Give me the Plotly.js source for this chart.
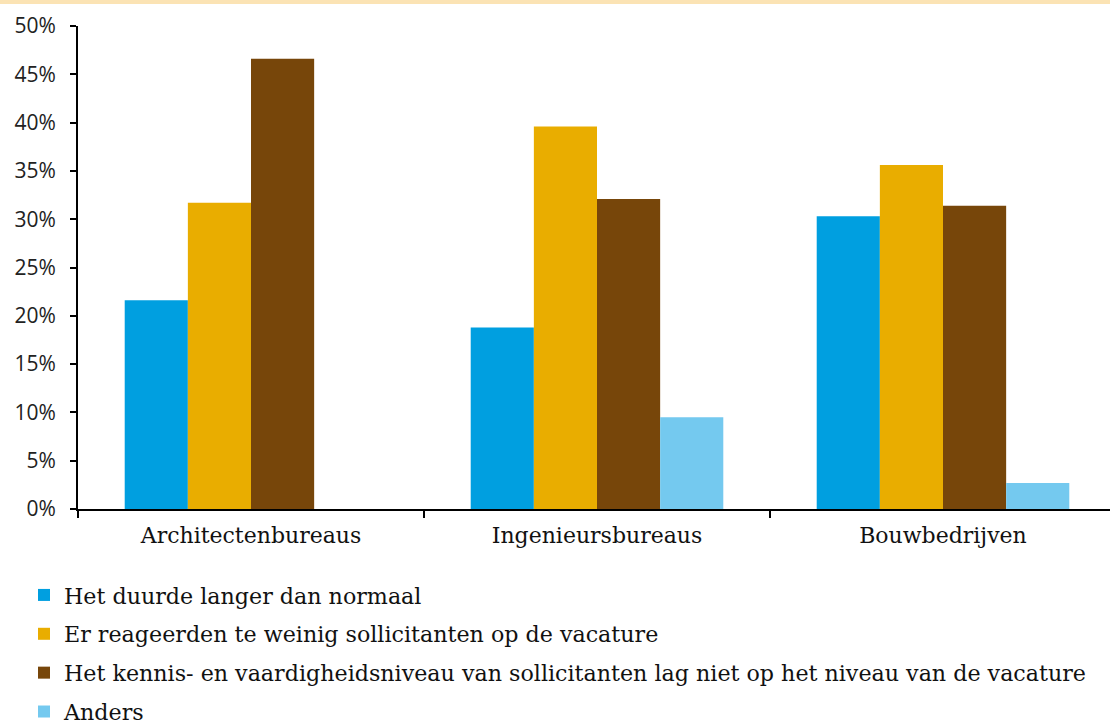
<!DOCTYPE html>
<html>
<head>
<meta charset="utf-8">
<script src="https://cdn.plot.ly/plotly-3.0.1.min.js"></script>
<style>
html,body{margin:0;padding:0;background:#fff;overflow:hidden;}
#band{position:absolute;left:0;top:0;width:1110px;height:4px;background:#fbe3b4;}
#chart{width:1116px;height:724px;}
</style>
</head>
<body>
<div id="chart"></div>
<div id="band"></div>
<script>
const categories = ["Architectenbureaus", "Ingenieursbureaus", "Bouwbedrijven"];
const seriesNames = [
  "Het duurde langer dan normaal",
  "Er reageerden te weinig sollicitanten op de vacature",
  "Het kennis- en vaardigheidsniveau van sollicitanten lag niet op het niveau van de vacature",
  "Anders"
];
const duurde = [0.216, 0.188, 0.303];
const weinig = [0.317, 0.396, 0.356];
const niveau = [0.466, 0.321, 0.314];
const anders = [null, 0.095, 0.027];
const colors = ["#009fe0", "#e9ad00", "#77460a", "#74c9ef"];
const yTicks = [0, 0.05, 0.1, 0.15, 0.2, 0.25, 0.3, 0.35, 0.4, 0.45, 0.5];

const values = [duurde, weinig, niveau, anders];
const traces = values.map((v, i) => ({
  type: "bar",
  x: categories,
  y: v,
  name: seriesNames[i],
  marker: {color: colors[i], line: {width: 0}},
  legendgroup: "g" + i,
  hoverinfo: "none"
}));

const layout = {
  width: 1116, height: 724,
  margin: {l: 78, r: 0, t: 26, b: 215, autoexpand: false},
  paper_bgcolor: "#ffffff",
  plot_bgcolor: "#ffffff",
  barmode: "group",
  bargap: 0.27,
  bargroupgap: 0,
  showlegend: true,
  legend: {
    xref: "container", yref: "container",
    x: 24/1116, y: 1 - 574/724,
    xanchor: "left", yanchor: "top",
    orientation: "v",
    traceorder: "grouped",
    tracegroupgap: 7,
    itemwidth: 30,
    font: {family: "DejaVu Serif, Liberation Serif, serif", size: 22.2, color: "#111"}
  },
  xaxis: {
    showline: true, linecolor: "#000", linewidth: 2,
    ticks: "outside", tickson: "boundaries", ticklen: 7, tickcolor: "#000", tickwidth: 2,
    tickangle: 0,
    ticklabelstandoff: 6,
    tickfont: {family: "DejaVu Serif, Liberation Serif, serif", size: 22, color: "#111"},
    showgrid: false, zeroline: false, fixedrange: true
  },
  yaxis: {
    range: [0, 0.5],
    tickvals: yTicks,
    tickformat: ".0%",
    showline: true, linecolor: "#000", linewidth: 2,
    ticks: "outside", ticklen: 6, tickcolor: "#000", tickwidth: 2,
    ticklabelstandoff: 10,
    tickfont: {family: "Open Sans, Noto Sans, sans-serif", size: 21, color: "#222"},
    showgrid: false, zeroline: false, fixedrange: true
  }
};

Plotly.newPlot("chart", traces, layout, {displayModeBar: false, staticPlot: true});
</script>
</body>
</html>
